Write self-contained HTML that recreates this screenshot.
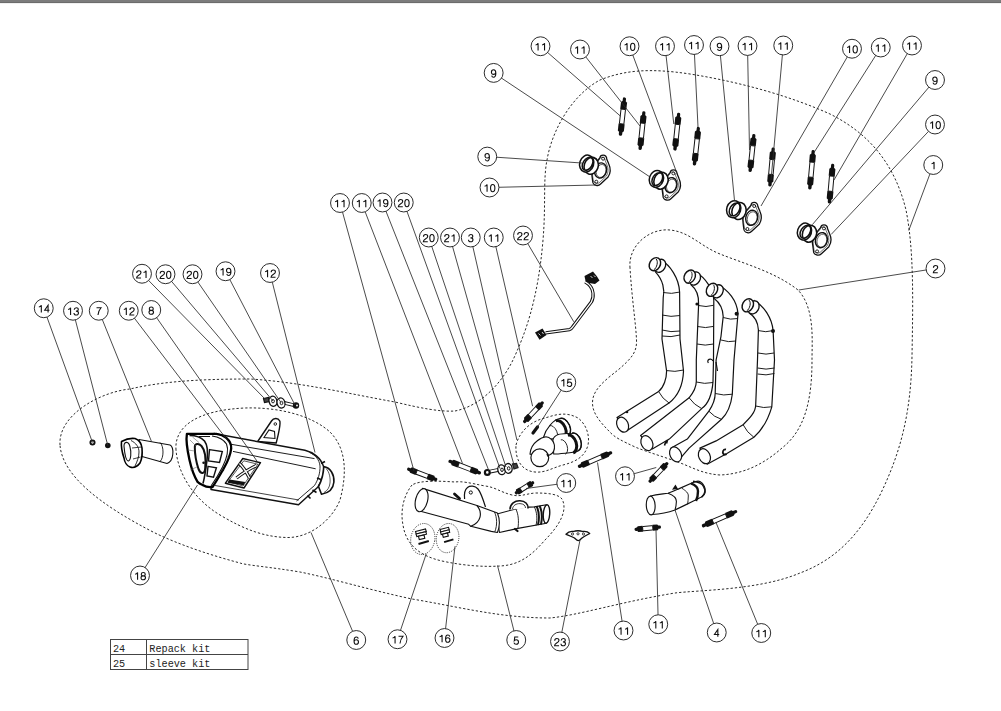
<!DOCTYPE html>
<html><head><meta charset="utf-8"><style>
html,body{margin:0;padding:0;background:#fff;width:1001px;height:711px;overflow:hidden}
svg{position:absolute;left:0;top:0;font-family:"Liberation Sans",sans-serif}
.bar{position:absolute;left:0;top:0;width:1001px;height:2px;background:#7c7c7c;border-bottom:1px solid #6c6c6c;box-shadow:0 1px 0 rgba(0,0,0,0.06)}
</style></head><body>
<svg width="1001" height="711" viewBox="0 0 1001 711">
<path d="M60 445 C58 415 100 392 130 389 C160 382 195 379 250 379 C300 382 350 394 395 402 C420 408 440 412 455 411 C480 406 500 385 512 362 C525 335 538 300 543 240 C546 205 543 180 547 160 C552 130 572 95 600 80 C625 70 650 68 690 74 C740 82 790 96 830 114 C870 134 895 165 906 210 C914 250 913 300 912 356 C911 410 902 450 880 495 C860 535 835 560 800 573 C760 590 700 590 675 593 C620 602 580 615 550 618 C500 618 460 607 412 599 C370 590 330 578 300 572 C270 567 245 565 240 563 C210 555 180 545 155 533 C100 505 62 475 60 445 Z" fill="none" stroke="#2a2a2a" stroke-width="1.0" stroke-dasharray="2.3 2"/>
<path d="M630 268 C628 245 650 228 670 230 C690 232 700 246 720 254 C745 264 775 272 798 290 C815 308 812 340 812 360 C812 400 805 430 782 448 C765 463 745 474 720 475 C705 474 695 469 684 464.4 C668 458 650 453 636 447.4 C622 441 614 437 609.8 431.9 C600 422 591 412 592.7 400 C594 388 608 378 618 370 C632 358 637 352 636.5 340 C636 325 632 300 630 268 Z" fill="none" stroke="#2a2a2a" stroke-width="1.0" stroke-dasharray="2.3 2"/>
<path d="M176 450 C174 425 200 410 245 408 C275 407 310 414 330 432 C345 447 348 470 340 500 C332 520 310 538 287 537.5 C265 537 245 530 220 515 C195 500 178 475 176 450 Z" fill="none" stroke="#2a2a2a" stroke-width="1.0" stroke-dasharray="2.3 2"/>
<path d="M412 485 C404 495 400 510 403 525 C406 545 420 556 442 561 C465 566 485 567 500 566 C520 565 532 555 545 540 C560 525 568 510 562 499 C558 494 548 493 535 493 C525 494 520 497 512 495 C500 492 495 487 485 486 C470 483 462 481 455 482 C440 481 420 480 412 485 Z" fill="none" stroke="#2a2a2a" stroke-width="1.0" stroke-dasharray="2.3 2"/>
<path d="M516 445 C520 430 532 421 545 418 C555 415 565 411 578 418 C586 424 590 435 588 445 C585 457 575 462 563 465 C552 468 545 473 535 472 C522 471 515 460 516 445 Z" fill="none" stroke="#2a2a2a" stroke-width="1.0" stroke-dasharray="2.3 2"/>
<ellipse cx="422.8" cy="539" rx="12" ry="15.6" transform="rotate(10 422.8 539)" fill="none" stroke="#222" stroke-width="0.9" stroke-dasharray="1 1.2"/>
<ellipse cx="447.6" cy="538.1" rx="11.2" ry="14.7" transform="rotate(10 447.6 538.1)" fill="none" stroke="#222" stroke-width="0.9" stroke-dasharray="1 1.2"/>
<g transform="translate(624.6 97.4) rotate(96.39)"><rect x="0" y="-1.6" width="5.41" height="3.2" rx="1.5" fill="#111"/><path d="M3.86 -1.8 L5.02 -3.0500000000000003 L11.98 -3.0500000000000003 L11.98 3.0500000000000003 L5.02 3.0500000000000003 L3.86 1.8 Z" fill="#111"/><rect x="11.98" y="-2.25" width="14.68" height="4.5" fill="#fff" stroke="#111" stroke-width="0.95"/><path d="M26.66 -3.0500000000000003 L33.62 -3.0500000000000003 L34.78 -1.8 L34.78 1.8 L33.62 3.0500000000000003 L26.66 3.0500000000000003 Z" fill="#111"/><rect x="33.23" y="-1.7" width="5.41" height="3.4" rx="1.6" fill="#111"/></g>
<g transform="translate(644 111.2) rotate(95.89)"><rect x="0" y="-1.6" width="5.46" height="3.2" rx="1.5" fill="#111"/><path d="M3.90 -1.8 L5.07 -3.0500000000000003 L12.09 -3.0500000000000003 L12.09 3.0500000000000003 L5.07 3.0500000000000003 L3.90 1.8 Z" fill="#111"/><rect x="12.09" y="-2.25" width="14.82" height="4.5" fill="#fff" stroke="#111" stroke-width="0.95"/><path d="M26.91 -3.0500000000000003 L33.93 -3.0500000000000003 L35.11 -1.8 L35.11 1.8 L33.93 3.0500000000000003 L26.91 3.0500000000000003 Z" fill="#111"/><rect x="33.54" y="-1.7" width="5.46" height="3.4" rx="1.6" fill="#111"/></g>
<g transform="translate(678.8 112.7) rotate(96.02)"><rect x="0" y="-1.6" width="5.34" height="3.2" rx="1.5" fill="#111"/><path d="M3.81 -1.8 L4.95 -3.0500000000000003 L11.81 -3.0500000000000003 L11.81 3.0500000000000003 L4.95 3.0500000000000003 L3.81 1.8 Z" fill="#111"/><rect x="11.81" y="-2.25" width="14.48" height="4.5" fill="#fff" stroke="#111" stroke-width="0.95"/><path d="M26.30 -3.0500000000000003 L33.16 -3.0500000000000003 L34.30 -1.8 L34.30 1.8 L33.16 3.0500000000000003 L26.30 3.0500000000000003 Z" fill="#111"/><rect x="32.78" y="-1.7" width="5.34" height="3.4" rx="1.6" fill="#111"/></g>
<g transform="translate(698.5 126.9) rotate(96.23)"><rect x="0" y="-1.6" width="5.42" height="3.2" rx="1.5" fill="#111"/><path d="M3.87 -1.8 L5.03 -3.0500000000000003 L12.01 -3.0500000000000003 L12.01 3.0500000000000003 L5.03 3.0500000000000003 L3.87 1.8 Z" fill="#111"/><rect x="12.01" y="-2.25" width="14.72" height="4.5" fill="#fff" stroke="#111" stroke-width="0.95"/><path d="M26.72 -3.0500000000000003 L33.69 -3.0500000000000003 L34.86 -1.8 L34.86 1.8 L33.69 3.0500000000000003 L26.72 3.0500000000000003 Z" fill="#111"/><rect x="33.31" y="-1.7" width="5.42" height="3.4" rx="1.6" fill="#111"/></g>
<g transform="translate(754 134) rotate(96.01)"><rect x="0" y="-1.6" width="5.35" height="3.2" rx="1.5" fill="#111"/><path d="M3.82 -1.8 L4.97 -3.0500000000000003 L11.85 -3.0500000000000003 L11.85 3.0500000000000003 L4.97 3.0500000000000003 L3.82 1.8 Z" fill="#111"/><rect x="11.85" y="-2.25" width="14.52" height="4.5" fill="#fff" stroke="#111" stroke-width="0.95"/><path d="M26.36 -3.0500000000000003 L33.24 -3.0500000000000003 L34.39 -1.8 L34.39 1.8 L33.24 3.0500000000000003 L26.36 3.0500000000000003 Z" fill="#111"/><rect x="32.86" y="-1.7" width="5.35" height="3.4" rx="1.6" fill="#111"/></g>
<g transform="translate(773.3 147.5) rotate(95.13)"><rect x="0" y="-1.6" width="5.48" height="3.2" rx="1.5" fill="#111"/><path d="M3.92 -1.8 L5.09 -3.0500000000000003 L12.14 -3.0500000000000003 L12.14 3.0500000000000003 L5.09 3.0500000000000003 L3.92 1.8 Z" fill="#111"/><rect x="12.14" y="-2.25" width="14.88" height="4.5" fill="#fff" stroke="#111" stroke-width="0.95"/><path d="M27.02 -3.0500000000000003 L34.07 -3.0500000000000003 L35.24 -1.8 L35.24 1.8 L34.07 3.0500000000000003 L27.02 3.0500000000000003 Z" fill="#111"/><rect x="33.67" y="-1.7" width="5.48" height="3.4" rx="1.6" fill="#111"/></g>
<g transform="translate(813.3 150) rotate(95.22)"><rect x="0" y="-1.6" width="5.54" height="3.2" rx="1.5" fill="#111"/><path d="M3.96 -1.8 L5.14 -3.0500000000000003 L12.26 -3.0500000000000003 L12.26 3.0500000000000003 L5.14 3.0500000000000003 L3.96 1.8 Z" fill="#111"/><rect x="12.26" y="-2.25" width="15.03" height="4.5" fill="#fff" stroke="#111" stroke-width="0.95"/><path d="M27.30 -3.0500000000000003 L34.42 -3.0500000000000003 L35.61 -1.8 L35.61 1.8 L34.42 3.0500000000000003 L27.30 3.0500000000000003 Z" fill="#111"/><rect x="34.03" y="-1.7" width="5.54" height="3.4" rx="1.6" fill="#111"/></g>
<g transform="translate(832.8 163.8) rotate(95.03)"><rect x="0" y="-1.6" width="5.59" height="3.2" rx="1.5" fill="#111"/><path d="M4.00 -1.8 L5.19 -3.0500000000000003 L12.39 -3.0500000000000003 L12.39 3.0500000000000003 L5.19 3.0500000000000003 L4.00 1.8 Z" fill="#111"/><rect x="12.39" y="-2.25" width="15.18" height="4.5" fill="#fff" stroke="#111" stroke-width="0.95"/><path d="M27.57 -3.0500000000000003 L34.76 -3.0500000000000003 L35.96 -1.8 L35.96 1.8 L34.76 3.0500000000000003 L27.57 3.0500000000000003 Z" fill="#111"/><rect x="34.36" y="-1.7" width="5.59" height="3.4" rx="1.6" fill="#111"/></g>
<g transform="translate(600.6 170.5)"><path d="M2.5 -15.4 C4.8 -15.4 6.2 -13.5 6.1 -11.6 L8.2 -6.5 C10.2 -2 9.8 3 7.5 6.5 L0 13.5 C-1.5 15 -3 15.2 -4.3 14.8 C-6.5 14.5 -8 12.5 -7.9 10.8 L-8.6 5.5 C-9.5 1 -8.5 -4 -5.5 -7 L-0.8 -12.5 C-0.5 -14.5 1 -15.4 2.5 -15.4 Z" fill="#fff" stroke="#111" stroke-width="1.3" stroke-linejoin="round"/><path d="M2.5 -15.4 C4.8 -15.4 6.2 -13.5 6.1 -11.6 L8.2 -6.5 C10.2 -2 9.8 3 7.5 6.5 L0 13.5 C-1.5 15 -3 15.2 -4.3 14.8 C-6.5 14.5 -8 12.5 -7.9 10.8 L-8.6 5.5 C-9.5 1 -8.5 -4 -5.5 -7 L-0.8 -12.5 C-0.5 -14.5 1 -15.4 2.5 -15.4 Z" transform="scale(0.86) translate(-0.8 0)" fill="none" stroke="#111" stroke-width="0.7"/><ellipse cx="0" cy="0" rx="5.9" ry="7.7" transform="rotate(15)" fill="#fff" stroke="#111" stroke-width="1.4"/><ellipse cx="0.6" cy="0.3" rx="4.8" ry="6.6" transform="rotate(15)" fill="none" stroke="#111" stroke-width="0.6"/><circle cx="2.5" cy="-11.8" r="1.5" fill="none" stroke="#111" stroke-width="0.9"/><circle cx="-4.3" cy="11.2" r="1.5" fill="none" stroke="#111" stroke-width="0.9"/></g><path d="M584.54 163.64 A7.0 8.6 18 1 0 597.86 167.96 A7.0 8.6 18 1 0 584.54 163.64 Z" fill="#fff" stroke="#111" stroke-width="1.6"/><path d="M580.04 161.44 A7.0 8.6 18 1 0 593.36 165.76 A7.0 8.6 18 1 0 580.04 161.44 Z M583.70 161.36 A4.6 7.0 32 1 0 591.50 166.24 A4.6 7.0 32 1 0 583.70 161.36 Z" fill="#fff" fill-rule="evenodd" stroke="#111" stroke-width="1.5"/>
<g transform="translate(670.9 185.2)"><path d="M2.5 -15.4 C4.8 -15.4 6.2 -13.5 6.1 -11.6 L8.2 -6.5 C10.2 -2 9.8 3 7.5 6.5 L0 13.5 C-1.5 15 -3 15.2 -4.3 14.8 C-6.5 14.5 -8 12.5 -7.9 10.8 L-8.6 5.5 C-9.5 1 -8.5 -4 -5.5 -7 L-0.8 -12.5 C-0.5 -14.5 1 -15.4 2.5 -15.4 Z" fill="#fff" stroke="#111" stroke-width="1.3" stroke-linejoin="round"/><path d="M2.5 -15.4 C4.8 -15.4 6.2 -13.5 6.1 -11.6 L8.2 -6.5 C10.2 -2 9.8 3 7.5 6.5 L0 13.5 C-1.5 15 -3 15.2 -4.3 14.8 C-6.5 14.5 -8 12.5 -7.9 10.8 L-8.6 5.5 C-9.5 1 -8.5 -4 -5.5 -7 L-0.8 -12.5 C-0.5 -14.5 1 -15.4 2.5 -15.4 Z" transform="scale(0.86) translate(-0.8 0)" fill="none" stroke="#111" stroke-width="0.7"/><ellipse cx="0" cy="0" rx="5.9" ry="7.7" transform="rotate(15)" fill="#fff" stroke="#111" stroke-width="1.4"/><ellipse cx="0.6" cy="0.3" rx="4.8" ry="6.6" transform="rotate(15)" fill="none" stroke="#111" stroke-width="0.6"/><circle cx="2.5" cy="-11.8" r="1.5" fill="none" stroke="#111" stroke-width="0.9"/><circle cx="-4.3" cy="11.2" r="1.5" fill="none" stroke="#111" stroke-width="0.9"/></g><path d="M654.34 178.54 A7.0 8.6 18 1 0 667.66 182.86 A7.0 8.6 18 1 0 654.34 178.54 Z" fill="#fff" stroke="#111" stroke-width="1.6"/><path d="M649.74 176.74 A7.0 8.6 18 1 0 663.06 181.06 A7.0 8.6 18 1 0 649.74 176.74 Z M653.40 176.66 A4.6 7.0 32 1 0 661.20 181.54 A4.6 7.0 32 1 0 653.40 176.66 Z" fill="#fff" fill-rule="evenodd" stroke="#111" stroke-width="1.5"/>
<g transform="translate(751.7 217.8)"><path d="M2.5 -15.4 C4.8 -15.4 6.2 -13.5 6.1 -11.6 L8.2 -6.5 C10.2 -2 9.8 3 7.5 6.5 L0 13.5 C-1.5 15 -3 15.2 -4.3 14.8 C-6.5 14.5 -8 12.5 -7.9 10.8 L-8.6 5.5 C-9.5 1 -8.5 -4 -5.5 -7 L-0.8 -12.5 C-0.5 -14.5 1 -15.4 2.5 -15.4 Z" fill="#fff" stroke="#111" stroke-width="1.3" stroke-linejoin="round"/><path d="M2.5 -15.4 C4.8 -15.4 6.2 -13.5 6.1 -11.6 L8.2 -6.5 C10.2 -2 9.8 3 7.5 6.5 L0 13.5 C-1.5 15 -3 15.2 -4.3 14.8 C-6.5 14.5 -8 12.5 -7.9 10.8 L-8.6 5.5 C-9.5 1 -8.5 -4 -5.5 -7 L-0.8 -12.5 C-0.5 -14.5 1 -15.4 2.5 -15.4 Z" transform="scale(0.86) translate(-0.8 0)" fill="none" stroke="#111" stroke-width="0.7"/><ellipse cx="0" cy="0" rx="5.9" ry="7.7" transform="rotate(15)" fill="#fff" stroke="#111" stroke-width="1.4"/><ellipse cx="0.6" cy="0.3" rx="4.8" ry="6.6" transform="rotate(15)" fill="none" stroke="#111" stroke-width="0.6"/><circle cx="2.5" cy="-11.8" r="1.5" fill="none" stroke="#111" stroke-width="0.9"/><circle cx="-4.3" cy="11.2" r="1.5" fill="none" stroke="#111" stroke-width="0.9"/></g><path d="M732.34 208.84 A7.0 8.6 18 1 0 745.66 213.16 A7.0 8.6 18 1 0 732.34 208.84 Z" fill="#fff" stroke="#111" stroke-width="1.6"/><path d="M727.04 207.04 A7.0 8.6 18 1 0 740.36 211.36 A7.0 8.6 18 1 0 727.04 207.04 Z M730.70 206.96 A4.6 7.0 32 1 0 738.50 211.84 A4.6 7.0 32 1 0 730.70 206.96 Z" fill="#fff" fill-rule="evenodd" stroke="#111" stroke-width="1.5"/>
<g transform="translate(821.4 240.2)"><path d="M2.5 -15.4 C4.8 -15.4 6.2 -13.5 6.1 -11.6 L8.2 -6.5 C10.2 -2 9.8 3 7.5 6.5 L0 13.5 C-1.5 15 -3 15.2 -4.3 14.8 C-6.5 14.5 -8 12.5 -7.9 10.8 L-8.6 5.5 C-9.5 1 -8.5 -4 -5.5 -7 L-0.8 -12.5 C-0.5 -14.5 1 -15.4 2.5 -15.4 Z" fill="#fff" stroke="#111" stroke-width="1.3" stroke-linejoin="round"/><path d="M2.5 -15.4 C4.8 -15.4 6.2 -13.5 6.1 -11.6 L8.2 -6.5 C10.2 -2 9.8 3 7.5 6.5 L0 13.5 C-1.5 15 -3 15.2 -4.3 14.8 C-6.5 14.5 -8 12.5 -7.9 10.8 L-8.6 5.5 C-9.5 1 -8.5 -4 -5.5 -7 L-0.8 -12.5 C-0.5 -14.5 1 -15.4 2.5 -15.4 Z" transform="scale(0.86) translate(-0.8 0)" fill="none" stroke="#111" stroke-width="0.7"/><ellipse cx="0" cy="0" rx="5.9" ry="7.7" transform="rotate(15)" fill="#fff" stroke="#111" stroke-width="1.4"/><ellipse cx="0.6" cy="0.3" rx="4.8" ry="6.6" transform="rotate(15)" fill="none" stroke="#111" stroke-width="0.6"/><circle cx="2.5" cy="-11.8" r="1.5" fill="none" stroke="#111" stroke-width="0.9"/><circle cx="-4.3" cy="11.2" r="1.5" fill="none" stroke="#111" stroke-width="0.9"/></g><path d="M802.84 231.54 A7.0 8.6 18 1 0 816.16 235.86 A7.0 8.6 18 1 0 802.84 231.54 Z" fill="#fff" stroke="#111" stroke-width="1.6"/><path d="M797.84 229.44 A7.0 8.6 18 1 0 811.16 233.76 A7.0 8.6 18 1 0 797.84 229.44 Z M801.50 229.36 A4.6 7.0 32 1 0 809.30 234.24 A4.6 7.0 32 1 0 801.50 229.36 Z" fill="#fff" fill-rule="evenodd" stroke="#111" stroke-width="1.5"/>
<path d="M660.6 259.5 C670 265 679 278 679.6 292 L680 339 L683.5 371 C683 385 678 396 669 403 L628 430 L617 417.5 L658.6 391.5 C664 387 666.6 378 666.6 371 L662 339 L663.2 298 C665 290 663 280 655.6 272.2 Z" fill="#fff" stroke="#111" stroke-width="1.2" stroke-linejoin="round"/><path d="M663 292.5 Q671.56 294.45 680 292" fill="none" stroke="#111" stroke-width="0.95"/><path d="M662 315 Q670.94 317.45 680 315.5" fill="none" stroke="#111" stroke-width="0.95"/><path d="M662 330 Q670.88 332.70 680 331" fill="none" stroke="#111" stroke-width="0.95"/><path d="M662 336 Q671.12 337.70 680 335" fill="none" stroke="#111" stroke-width="0.95"/><path d="M666 370.5 Q674.91 372.45 683.7 370" fill="none" stroke="#111" stroke-width="0.95"/><path d="M658.6 391.5 Q662.33 398.83 669.3 403.2" fill="none" stroke="#111" stroke-width="0.95"/><ellipse cx="660" cy="265.8" rx="5.3" ry="6.9" transform="rotate(30 660 265.8)" fill="#fff" stroke="#111" stroke-width="1.35"/><ellipse cx="654.9" cy="264.2" rx="5.3" ry="6.9" transform="rotate(30 654.9 264.2)" fill="#fff" stroke="#111" stroke-width="1.45"/><path d="M656.1 259.0 C658.5 261.2 657.1 267.7 653.6999999999999 270.0" fill="none" stroke="#111" stroke-width="1"/><ellipse cx="622.6" cy="424.7" rx="5.6" ry="7.8" transform="rotate(-25 622.6 424.7)" fill="#fff" stroke="#111" stroke-width="1.2"/>
<path d="M696 272.2 C706 278 713.5 290 713.8 300.6 L713.5 360 L713 381.6 C712 395 708 404 701.7 408.6 L669.3 439.1 L652.3 449 L640.6 435.5 L689.1 397.8 C694 392 696.3 388 696.3 381.6 L696.3 360 L698.6 304.4 C699 295 695 288 691 284.8 Z" fill="#fff" stroke="#111" stroke-width="1.2" stroke-linejoin="round"/><path d="M698.5 305.5 Q706.03 307.60 713.5 305.3" fill="none" stroke="#111" stroke-width="0.95"/><path d="M697.5 326.5 Q705.51 328.65 713.5 326.4" fill="none" stroke="#111" stroke-width="0.95"/><path d="M697 344 Q705.25 346.20 713.5 344" fill="none" stroke="#111" stroke-width="0.95"/><path d="M696.3 382 Q704.58 384.45 713 382.5" fill="none" stroke="#111" stroke-width="0.95"/><path d="M689.1 397.8 Q693.97 404.87 701.7 408.6" fill="none" stroke="#111" stroke-width="0.95"/><ellipse cx="694.8" cy="278.5" rx="5.3" ry="6.9" transform="rotate(30 694.8 278.5)" fill="#fff" stroke="#111" stroke-width="1.35"/><ellipse cx="689.7" cy="276.6" rx="5.3" ry="6.9" transform="rotate(30 689.7 276.6)" fill="#fff" stroke="#111" stroke-width="1.45"/><path d="M690.9000000000001 271.40000000000003 C693.3000000000001 273.6 691.9000000000001 280.1 688.5 282.40000000000003" fill="none" stroke="#111" stroke-width="1"/><ellipse cx="646.9" cy="443.1" rx="5.6" ry="7.8" transform="rotate(-25 646.9 443.1)" fill="#fff" stroke="#111" stroke-width="1.2"/>
<path d="M718.3 285 C728 290 737 300 738 313.8 L734 360 L732.3 394.2 C731 405 727 414 721.5 419.3 L689.1 448.1 L678.3 460.7 L671.1 448.1 L687.3 439.1 L708.9 411.2 C713 405 715.2 399 715.2 393.3 L716.1 360 L721 336.3 L723.2 316.6 C723 310 720 303 714 298.3 Z" fill="#fff" stroke="#111" stroke-width="1.2" stroke-linejoin="round"/><path d="M723.2 317.5 Q730.45 320.19 738 318.5" fill="none" stroke="#111" stroke-width="0.95"/><path d="M721 340 Q728.35 342.70 736 341" fill="none" stroke="#111" stroke-width="0.95"/><path d="M715.2 393.5 Q723.66 396.05 732.3 394.2" fill="none" stroke="#111" stroke-width="0.95"/><path d="M708.9 411.2 Q714.01 417.10 721.5 419.3" fill="none" stroke="#111" stroke-width="0.95"/><ellipse cx="717.6" cy="291.3" rx="5.3" ry="6.9" transform="rotate(30 717.6 291.3)" fill="#fff" stroke="#111" stroke-width="1.35"/><ellipse cx="712" cy="289.8" rx="5.3" ry="6.9" transform="rotate(30 712 289.8)" fill="#fff" stroke="#111" stroke-width="1.45"/><path d="M713.2 284.6 C715.6 286.8 714.2 293.3 710.8 295.6" fill="none" stroke="#111" stroke-width="1"/><ellipse cx="675.6" cy="454.4" rx="5.6" ry="7.8" transform="rotate(-25 675.6 454.4)" fill="#fff" stroke="#111" stroke-width="1.2"/>
<path d="M754.1 300.4 C764 306 772 318 773.1 330.6 L774.5 360 L771.8 406.8 C768 420 762 430 753.9 437.3 L726.9 453.5 L707.1 464.3 L699.9 448.1 L716.1 440.9 L743.1 424.7 C750 418 755.7 412 755.7 405 L757.5 360 L758.4 330 C758 322 754 316 749.2 313 Z" fill="#fff" stroke="#111" stroke-width="1.2" stroke-linejoin="round"/><path d="M758.4 330.6 Q765.75 332.80 773.1 330.6" fill="none" stroke="#111" stroke-width="0.95"/><path d="M758 353 Q766.00 355.20 774 353" fill="none" stroke="#111" stroke-width="0.95"/><path d="M757.6 368 Q766.05 370.20 774.5 368" fill="none" stroke="#111" stroke-width="0.95"/><path d="M757.6 374 Q766.07 375.95 774.4 373.5" fill="none" stroke="#111" stroke-width="0.95"/><path d="M755.7 406 Q763.64 408.60 771.8 406.8" fill="none" stroke="#111" stroke-width="0.95"/><path d="M743.1 424.7 Q746.83 432.43 753.9 437.3" fill="none" stroke="#111" stroke-width="0.95"/><ellipse cx="753.4" cy="307.4" rx="5.3" ry="6.9" transform="rotate(30 753.4 307.4)" fill="#fff" stroke="#111" stroke-width="1.35"/><ellipse cx="747.8" cy="305.3" rx="5.3" ry="6.9" transform="rotate(30 747.8 305.3)" fill="#fff" stroke="#111" stroke-width="1.45"/><path d="M749.0 300.1 C751.4 302.3 750.0 308.8 746.5999999999999 311.1" fill="none" stroke="#111" stroke-width="1"/><ellipse cx="704.4" cy="456.2" rx="5.6" ry="7.8" transform="rotate(-25 704.4 456.2)" fill="#fff" stroke="#111" stroke-width="1.2"/>
<path d="M257.7 441.5 L271.5 421 C273.5 418 278 417.5 279.8 421 C280.5 423 279.5 430 276.2 443 Z" fill="#fff" stroke="#111" stroke-width="1.4" stroke-linejoin="round"/><path d="M264 437.5 L269 430 L274.5 431.5 L275 438.5 Z" fill="none" stroke="#111" stroke-width="1.1"/><circle cx="275.3" cy="424" r="1.3" fill="none" stroke="#111" stroke-width="0.9"/><path d="M214 433.6 L304.9 450.2 C313 452 321 458 323.5 466.4 C324.5 472 322 481 318 487 L298.5 504.7 L211 489.5 Z" fill="#fff" stroke="#111" stroke-width="1.5" stroke-linejoin="round"/><path d="M323.8 466.6 C330.5 467.5 334.5 475 333.9 482 C333.3 488.5 329.5 493 321.5 494.2 L318.5 486.5 C321.5 481 323.5 473 323.8 466.6 Z" fill="#fff" stroke="#111" stroke-width="1.6" stroke-linejoin="round"/><path d="M326 468.5 C329.5 472 330.5 478 330 483 C329.5 487.5 327.5 490.5 324 492.5" fill="none" stroke="#111" stroke-width="0.7"/><path d="M230.6 444.2 L314.5 458.6" stroke="#111" stroke-width="0.95"/><path d="M233 451.4 L315.7 468.8" stroke="#111" stroke-width="0.95"/><path d="M215 485.5 L298.9 500" stroke="#111" stroke-width="0.8"/><path d="M309.5 452.5 C315.5 455 319.5 460 320 466 C320.3 473 318 480 314.5 485.5 L296.5 501" fill="none" stroke="#111" stroke-width="0.9"/><path d="M321 463.5 L325 461.5 M317 478 L321 479.5 M312.5 490 L316.5 492.5 M307.5 495.5 L310.5 498.5" stroke="#111" stroke-width="1.6"/><path d="M186.9 433.9 L216.4 433.9 C221 434.5 224 436 226.3 437.8 C230 441 231.5 445 231.2 448.5 C230.5 455 228 461 224 468 C220 475 216 482 212.5 487 C209 487.5 205 486.5 202.6 485 C200 484 198.5 483 197.7 482.1 C194 476 191.5 469 189.5 460 C187.5 451 185.5 442 186.9 433.9 Z" fill="#fff" stroke="#000" stroke-width="2.3" stroke-linejoin="round"/><path d="M189.5 435.5 C196 435.5 201 437 204.5 441 C207.5 445 208 452 207 460 C206 468 205 476 203 483.5" fill="none" stroke="#111" stroke-width="1.6"/><path d="M212 436 C219 437 224 440 226.5 444 C229 450 226.5 459 222.5 467 C218.5 475 214.5 481 211 486" fill="none" stroke="#111" stroke-width="1.1"/><path d="M194.8 447 C194.8 443.5 198.5 443 201.5 446 C205 450 206 459 205.2 468 C204.8 474 201 475 198.5 469 C196.5 463 194.8 453 194.8 447 Z" fill="#fff" stroke="#111" stroke-width="2"/><path d="M209.5 449.6 L222.3 451.5 L219.5 462.4 L208.5 461 Z" fill="#fff" stroke="#111" stroke-width="1.4"/><path d="M208 466.4 L216.4 467.8 L213.5 477.2 L207 476 Z" fill="#fff" stroke="#111" stroke-width="1.4"/><circle cx="203.6" cy="462.8" r="1.3" fill="#111"/><path d="M190 440 L196 446 M192.5 437 L199 442.5 M188 450 L194.5 451 M190 470 L197 467" stroke="#666" stroke-width="0.6"/><path d="M199 436.5 L210 436.5" stroke="#111" stroke-width="1"/><circle cx="228.8" cy="457" r="1.2" fill="#111"/><circle cx="223" cy="470" r="1.2" fill="#111"/><path d="M225.4 483.2 L242.8 458.5 L260.5 462.7 L244 488 Z" fill="#fff" stroke="#111" stroke-width="1.4" stroke-linejoin="round"/><path d="M228 481.8 L243.8 460.8 L257.8 464.2 L243 486 Z" fill="none" stroke="#111" stroke-width="0.7"/><path d="M229.5 479.5 L245.3 482 L243.6 485.2 L227.5 482.7 Z" fill="#111"/><path d="M239.5 463.5 C243 467 246.5 472 249.5 478 M256.5 465.5 C251 468 243 473 236.5 478" fill="none" stroke="#111" stroke-width="3.4"/><path d="M239.5 463.5 C243 467 246.5 472 249.5 478 M256.5 465.5 C251 468 243 473 236.5 478" fill="none" stroke="#fff" stroke-width="1.4"/>
<path d="M139 439.5 L170 445 C174 447 174.5 461 167 463.5 L142 456.5 Z" fill="#fff" stroke="#111" stroke-width="1.1" stroke-linejoin="round"/><path d="M160 442.5 C164 446 164 458 160 461.5" fill="none" stroke="#111" stroke-width="0.9"/><path d="M121.5 441.5 C126 439 131 438 135 438.5 C139 440 141.5 444 142 448 C142.5 454 141.5 460 140 463 C137 467 133 468 130 467 C127 466 124.5 462 124 458 C122 452 121 446 121.5 441.5 Z" fill="#fff" stroke="#000" stroke-width="1.6" stroke-linejoin="round"/><path d="M124 446 C124 441 129 441 130 447 C131.5 452 131 460 128.5 461 C126 461 124.5 452 124 446 Z" fill="#fff" stroke="#111" stroke-width="1.1"/><path d="M131 440.5 C136 443 139 447 139 452 C139 457 137 462 135 466" fill="none" stroke="#111" stroke-width="0.9"/><path d="M132 448 L141.5 447 M133 459 L140.5 457" stroke="#111" stroke-width="0.8"/>
<circle cx="92.5" cy="442.5" r="2.1" fill="#fff" stroke="#111" stroke-width="1.9"/>
<circle cx="107.8" cy="445.5" r="2.8" fill="#111"/>
<path d="M263.5 398.5 L268.5 397.5 L269.5 401.5 L264.5 402.5 Z" fill="#444" stroke="#111" stroke-width="1.2"/><path d="M284 402.8 L294 405.2" stroke="#111" stroke-width="3.6"/><path d="M284 402.8 L294 405.2" stroke="#fff" stroke-width="1.8"/><ellipse cx="273" cy="401.2" rx="3.9" ry="5.1" transform="rotate(-15 273 401.2)" fill="#fff" stroke="#111" stroke-width="1.3"/><ellipse cx="273" cy="401.2" rx="1.4" ry="1.7" fill="none" stroke="#111" stroke-width="0.9"/><ellipse cx="281" cy="403" rx="3.9" ry="5.1" transform="rotate(-15 281 403)" fill="#fff" stroke="#111" stroke-width="1.3"/><ellipse cx="281.5" cy="403" rx="1.4" ry="1.7" fill="none" stroke="#111" stroke-width="0.9"/><circle cx="296" cy="405.5" r="3.2" fill="#111"/><circle cx="297" cy="405.5" r="0.9" fill="#fff"/>
<g transform="translate(407.2 468.6) rotate(20.81)"><rect x="0" y="-1.6" width="4.49" height="3.2" rx="1.5" fill="#111"/><path d="M3.21 -1.8 L4.17 -2.95 L9.95 -2.95 L9.95 2.95 L4.17 2.95 L3.21 1.8 Z" fill="#111"/><rect x="9.95" y="-2.15" width="12.20" height="4.3" fill="#fff" stroke="#111" stroke-width="0.95"/><path d="M22.14 -2.95 L27.92 -2.95 L28.88 -1.8 L28.88 1.8 L27.92 2.95 L22.14 2.95 Z" fill="#111"/><rect x="27.60" y="-1.7" width="4.49" height="3.4" rx="1.6" fill="#111"/></g>
<g transform="translate(448.5 460.8) rotate(21.25)"><rect x="0" y="-1.6" width="4.87" height="3.2" rx="1.5" fill="#111"/><path d="M3.48 -1.8 L4.52 -2.95 L10.78 -2.95 L10.78 2.95 L4.52 2.95 L3.48 1.8 Z" fill="#111"/><rect x="10.78" y="-2.15" width="13.21" height="4.3" fill="#fff" stroke="#111" stroke-width="0.95"/><path d="M23.99 -2.95 L30.24 -2.95 L31.29 -1.8 L31.29 1.8 L30.24 2.95 L23.99 2.95 Z" fill="#111"/><rect x="29.90" y="-1.7" width="4.87" height="3.4" rx="1.6" fill="#111"/></g>
<g transform="translate(543.3 401.7) rotate(133.31)"><rect x="0" y="-1.6" width="4.02" height="3.2" rx="1.5" fill="#111"/><path d="M2.87 -1.8 L3.73 -2.95 L8.90 -2.95 L8.90 2.95 L3.73 2.95 L2.87 1.8 Z" fill="#111"/><rect x="8.90" y="-2.15" width="10.91" height="4.3" fill="#fff" stroke="#111" stroke-width="0.95"/><path d="M19.82 -2.95 L24.99 -2.95 L25.85 -1.8 L25.85 1.8 L24.99 2.95 L19.82 2.95 Z" fill="#111"/><rect x="24.70" y="-1.7" width="4.02" height="3.4" rx="1.6" fill="#111"/></g>
<g transform="translate(534 482) rotate(148.82)"><rect x="0" y="-1.6" width="3.11" height="3.2" rx="1.5" fill="#111"/><path d="M2.22 -1.8 L2.89 -2.95 L6.88 -2.95 L6.88 2.95 L2.89 2.95 L2.22 1.8 Z" fill="#111"/><rect x="6.88" y="-2.15" width="8.44" height="4.3" fill="#fff" stroke="#111" stroke-width="0.95"/><path d="M15.32 -2.95 L19.32 -2.95 L19.99 -1.8 L19.99 1.8 L19.32 2.95 L15.32 2.95 Z" fill="#111"/><rect x="19.10" y="-1.7" width="3.11" height="3.4" rx="1.6" fill="#111"/></g>
<g transform="translate(612.1 452.2) rotate(156.54)"><rect x="0" y="-1.6" width="5.20" height="3.2" rx="1.5" fill="#111"/><path d="M3.72 -1.8 L4.83 -2.95 L11.52 -2.95 L11.52 2.95 L4.83 2.95 L3.72 1.8 Z" fill="#111"/><rect x="11.52" y="-2.15" width="14.13" height="4.3" fill="#fff" stroke="#111" stroke-width="0.95"/><path d="M25.65 -2.95 L32.34 -2.95 L33.46 -1.8 L33.46 1.8 L32.34 2.95 L25.65 2.95 Z" fill="#111"/><rect x="31.97" y="-1.7" width="5.20" height="3.4" rx="1.6" fill="#111"/></g>
<g transform="translate(667.9 462.5) rotate(133.67)"><rect x="0" y="-1.6" width="3.83" height="3.2" rx="1.5" fill="#111"/><path d="M2.74 -1.8 L3.56 -2.95 L8.49 -2.95 L8.49 2.95 L3.56 2.95 L2.74 1.8 Z" fill="#111"/><rect x="8.49" y="-2.15" width="10.40" height="4.3" fill="#fff" stroke="#111" stroke-width="0.95"/><path d="M18.89 -2.95 L23.81 -2.95 L24.64 -1.8 L24.64 1.8 L23.81 2.95 L18.89 2.95 Z" fill="#111"/><rect x="23.54" y="-1.7" width="3.83" height="3.4" rx="1.6" fill="#111"/></g>
<g transform="translate(737.1 511) rotate(156.45)"><rect x="0" y="-1.6" width="5.36" height="3.2" rx="1.5" fill="#111"/><path d="M3.83 -1.8 L4.98 -2.95 L11.87 -2.95 L11.87 2.95 L4.98 2.95 L3.83 1.8 Z" fill="#111"/><rect x="11.87" y="-2.15" width="14.55" height="4.3" fill="#fff" stroke="#111" stroke-width="0.95"/><path d="M26.42 -2.95 L33.31 -2.95 L34.46 -1.8 L34.46 1.8 L33.31 2.95 L26.42 2.95 Z" fill="#111"/><rect x="32.93" y="-1.7" width="5.36" height="3.4" rx="1.6" fill="#111"/></g>
<g transform="translate(661 527) rotate(174.61)"><rect x="0" y="-1.6" width="3.73" height="3.2" rx="1.5" fill="#111"/><path d="M2.66 -1.8 L3.46 -2.95 L8.25 -2.95 L8.25 2.95 L3.46 2.95 L2.66 1.8 Z" fill="#111"/><rect x="8.25" y="-2.15" width="10.11" height="4.3" fill="#fff" stroke="#111" stroke-width="0.95"/><path d="M18.37 -2.95 L23.16 -2.95 L23.96 -1.8 L23.96 1.8 L23.16 2.95 L18.37 2.95 Z" fill="#111"/><rect x="22.89" y="-1.7" width="3.73" height="3.4" rx="1.6" fill="#111"/></g>
<path d="M533 433 L537.5 427" stroke="#111" stroke-width="3.2" stroke-linecap="round"/>
<path d="M489 471.8 L500 469.6" stroke="#111" stroke-width="3.8"/><path d="M489 471.8 L500 469.6" stroke="#fff" stroke-width="2"/><circle cx="487.3" cy="472.4" r="2.4" fill="#fff" stroke="#111" stroke-width="2.2"/><ellipse cx="501.6" cy="469.8" rx="3.8" ry="4.9" transform="rotate(-10 501.6 469.8)" fill="#fff" stroke="#111" stroke-width="1.3"/><ellipse cx="502" cy="469.8" rx="1.3" ry="1.7" fill="none" stroke="#111" stroke-width="1"/><ellipse cx="508.3" cy="468.4" rx="3.8" ry="4.9" transform="rotate(-10 508.3 468.4)" fill="#fff" stroke="#111" stroke-width="1.3"/><ellipse cx="508.7" cy="468.4" rx="1.3" ry="1.7" fill="none" stroke="#111" stroke-width="1"/><path d="M512.5 464 L516.5 463.5 L518 467.5 L514 469 Z" fill="#444" stroke="#222" stroke-width="1.3"/>
<path d="M543.6 437 C545.6 429 553.6708349408051 419.5790524361661 559.67 418.58 A6.5 9.8 -23 0 1 567.33 436.62 C563.3291650591949 438.12094756383397 553 439 550 439 Z" fill="#fff" stroke="#111" stroke-width="1.05"/><path d="M549.44 425.78 A4.55 7.840000000000001 -23 0 1 555.56 440.22" fill="none" stroke="#111" stroke-width="0.9"/><path d="M555.75 420.76 A6.175 9.604000000000001 -23 0 1 563.25 438.44" fill="none" stroke="#111" stroke-width="3.0"/><path d="M559.67 418.58 A6.5 9.8 -23 0 1 567.33 436.62" fill="none" stroke="#111" stroke-width="1.4"/><path d="M552.9 440 C554.9 432 566.0517059756062 434.21073529394744 572.05 433.21 A6.2 9.4 -17 0 1 577.55 451.19 C573.5482940243937 452.68926470605254 556.7 454 553.7 454 Z" fill="#fff" stroke="#111" stroke-width="1.05"/><path d="M560.80 439.81 A4.34 7.5200000000000005 -17 0 1 565.20 454.19" fill="none" stroke="#111" stroke-width="0.9"/><path d="M567.81 435.19 A5.89 9.212 -17 0 1 573.19 452.81" fill="none" stroke="#111" stroke-width="3.0"/><path d="M572.05 433.21 A6.2 9.4 -17 0 1 577.55 451.19" fill="none" stroke="#111" stroke-width="1.4"/><path d="M530 454 C530.5 448 533 444 537 441 C540 438.5 543 437 546 436.8 C550 437 553.5 440.5 554.4 445 C555 450 553 453.5 549.5 455 L543 458 Z" fill="#fff" stroke="#111" stroke-width="1.1"/><circle cx="539.8" cy="457.8" r="8.9" fill="#fff" stroke="#111" stroke-width="1.2"/><path d="M547 454 L548.5 456.5" stroke="#111" stroke-width="1.6"/>
<path d="M464.6 499 C464 494 465 489.5 467.5 487.5 C470 485.5 475 485.5 478 489 C480.5 492 483 499 485.5 507" fill="#fff" stroke="#111" stroke-width="1.2"/><circle cx="470.8" cy="492.5" r="1.6" fill="none" stroke="#111" stroke-width="1"/><path d="M454.5 494 L459.5 498.5" stroke="#111" stroke-width="2.8" stroke-linecap="round"/><path d="M497 514 L515.8 508.9 C522 507.5 528 507 534.3 506.9 L546.5 504.8 L546.5 523.2 L517.9 528.4 L499.4 532.5 Z" fill="#fff" stroke="#111" stroke-width="1.1" stroke-linejoin="round"/><path d="M510 509.5 C510 504 515 500.5 520 500.8 C525 501 528.5 504 528 508.5" fill="#fff" stroke="#111" stroke-width="1.6"/><path d="M512.5 509 C513 505.5 516 503.5 520 503.6 C523.5 503.8 525.5 505.5 525.5 508" fill="none" stroke="#111" stroke-width="0.8"/><path d="M515.8 508.9 C518.5 514 519 522 517.9 528.4 M534.3 506.9 C537 512 537.5 519 536 525.5" fill="none" stroke="#111" stroke-width="0.9"/><path d="M536.5 506.2 C539 511 539.5 518 538 525 M539.5 505.8 C542 510.5 542.5 517 541 524.5" fill="none" stroke="#111" stroke-width="2"/><ellipse cx="546.5" cy="514" rx="3.2" ry="9.3" transform="rotate(4 546.5 514)" fill="#fff" stroke="#111" stroke-width="1.4"/><path d="M515 529 L517.5 531" stroke="#111" stroke-width="2.2" stroke-linecap="round"/><path d="M476.9 505.5 L497.4 513 C499.5 518 500 526 497.4 532.5 L491.3 531.4 L470.8 526.3 Z" fill="#fff" stroke="#111" stroke-width="1.1" stroke-linejoin="round"/><path d="M494.5 512 C497 517.5 497.5 525 494.8 531.8" fill="none" stroke="#111" stroke-width="0.9"/><path d="M422.6 488.4 L476.9 505.5 C480 509 481 513 480 517.1 C479 521 475.5 524.5 470.8 526.3 L468.7 524.3 L419.6 511 Z" fill="#fff" stroke="#111" stroke-width="1.15" stroke-linejoin="round"/><ellipse cx="421.6" cy="500.2" rx="6" ry="11.8" transform="rotate(14 421.6 500.2)" fill="#fff" stroke="#111" stroke-width="1.15"/>
<g stroke="#111" fill="#fff" stroke-width="1.1"><path d="M415.5 531.5 L425.5 529 L426.3 531.6 L416.3 534.1 Z"/><path d="M416 534 L425.8 531.6 L426.5 534.2 L416.8 536.6 Z"/><path d="M418.5 536.3 L424 535 L424.8 538.3 L419.3 539.6 Z"/><path d="M418.5 544 L428.8 541" stroke-width="1.9"/><path d="M440 529.5 L448.5 527.3 L449.3 529.8 L440.8 532 Z"/><path d="M440.5 532 L449 529.8 L449.7 532.4 L441.2 534.5 Z"/><path d="M442.5 534.3 L447.5 533 L448.3 536 L443.3 537.3 Z"/><path d="M444.1 542.2 L453.4 539.3" stroke-width="1.9"/></g>
<path d="M650.5 496 C657 494.5 663 494 668 493.2 C673 491.5 676 490 679.2 488.6 L692.4 482.7 C695 481.5 698 480.5 700 481.5 C704 483.5 706 489 705 493 C704.5 495.5 702 497 699.4 498 C692 502 683 506 675 510 C668 512.5 660 514 651.9 514.5 Z" fill="#fff" stroke="#111" stroke-width="1.15" stroke-linejoin="round"/><path d="M668 493.2 C673 495 676.5 498 676.4 501.6 C676.3 505 675.8 507.5 675 510" fill="none" stroke="#111" stroke-width="1.1"/><path d="M682 488.3 C686 491 688.5 493 688.3 496 C688.2 499 688 502 687.6 504.4" fill="none" stroke="#111" stroke-width="0.9"/><path d="M691 483.4 C695 485 698 488 698 491 C698 494 697.5 498 696 500.9" fill="none" stroke="#111" stroke-width="2.4"/><path d="M693 481.3 C698 482 702.5 484 703.5 486.5 C705.5 490 705 494.5 701.5 497.4" fill="none" stroke="#111" stroke-width="1.5"/><path d="M672 489.8 L675.5 484.5 L678 489" fill="#111"/><ellipse cx="650.7" cy="505.5" rx="4.4" ry="9.4" transform="rotate(-3 650.7 505.5)" fill="#fff" stroke="#111" stroke-width="1.15"/>
<path d="M566 534.3 C568 532 571 531 573.5 531.5 C575.5 530.5 580.5 530.5 582.5 531.5 C585 531 588 531.8 589.7 533.5 C587 535 584 536.5 582 538 C580.5 539.5 579.5 540.7 578.3 540.7 C577 540.7 576 539.5 574.5 538 C572 536.5 569 535.5 566 534.3 Z" fill="#fff" stroke="#111" stroke-width="1.3" stroke-linejoin="round"/><circle cx="572.5" cy="534" r="1.1" fill="none" stroke="#111" stroke-width="0.8"/><circle cx="578" cy="533.8" r="1.1" fill="none" stroke="#111" stroke-width="0.8"/><circle cx="583.5" cy="534" r="1.1" fill="none" stroke="#111" stroke-width="0.8"/>
<path d="M585.1 281.9 C589 284 592.5 288 593 293.1 C593.5 297 592.8 299.5 591.3 302.1 L572.7 326.8 C571.5 328.6 570.5 329.4 569.4 329.7 L545.7 332.8" fill="none" stroke="#111" stroke-width="3.3" stroke-linejoin="round"/><path d="M585.1 281.9 C589 284 592.5 288 593 293.1 C593.5 297 592.8 299.5 591.3 302.1 L572.7 326.8 C571.5 328.6 570.5 329.4 569.4 329.7 L545.7 332.8" fill="none" stroke="#fff" stroke-width="1.3" stroke-linejoin="round"/><path d="M584.5 276 L593 271.5 L597 276.5 L599.5 280.5 L595 284 L589 283 L585.5 281 Z" fill="#111"/><path d="M535 332.5 L542.5 328.5 L546.5 335 L539.5 339.8 Z" fill="#111"/><path d="M590.5 276 L592.5 278 M594 275.5 L595.5 277" stroke="#fff" stroke-width="0.8"/><path d="M538.5 333.5 L540.5 335.5 M542 332 L543.5 334" stroke="#fff" stroke-width="0.8"/>
<path d="M708.4 363 C706 360 711 357 713 361 M716 362 L717.5 371" fill="none" stroke="#111" stroke-width="1.2"/><circle cx="736.6" cy="313.8" r="2" fill="#111"/><circle cx="773" cy="331" r="2" fill="#111"/><circle cx="697" cy="304" r="1.6" fill="#111"/><path d="M726 449.5 C723 449 722 452.5 723.5 454 C724.5 455 726 454.5 726.5 454" fill="none" stroke="#111" stroke-width="1.8"/><path d="M664.5 445.5 L666 441 M666.5 443.5 L667.5 440" stroke="#111" stroke-width="1.6"/><circle cx="627" cy="412" r="1.3" fill="#111"/>
<g stroke="#444" stroke-width="1" fill="none"><rect x="110.5" y="639.5" width="137.5" height="30"/><line x1="110.5" y1="654.5" x2="248" y2="654.5"/><line x1="146.5" y1="639.5" x2="146.5" y2="669.5"/></g>
<g font-family="Liberation Mono, monospace" font-size="10.2" fill="#222"><text x="113" y="651.8">24</text><text x="149.3" y="651.8">Repack kit</text><text x="113" y="666.8">25</text><text x="149.3" y="666.8">sleeve kit</text></g>
<line x1="540.5" y1="46.25" x2="620.3" y2="116" stroke="#2a2a2a" stroke-width="0.85"/>
<line x1="580" y1="49.5" x2="640" y2="126" stroke="#2a2a2a" stroke-width="0.85"/>
<line x1="629.5" y1="46.25" x2="676.5" y2="172" stroke="#2a2a2a" stroke-width="0.85"/>
<line x1="665" y1="46.25" x2="673.8" y2="124" stroke="#2a2a2a" stroke-width="0.85"/>
<line x1="694" y1="45" x2="698" y2="127" stroke="#2a2a2a" stroke-width="0.85"/>
<line x1="719.5" y1="46.25" x2="734.5" y2="200.6" stroke="#2a2a2a" stroke-width="0.85"/>
<line x1="747.5" y1="46" x2="749.5" y2="150" stroke="#2a2a2a" stroke-width="0.85"/>
<line x1="783.25" y1="45.5" x2="771" y2="180" stroke="#2a2a2a" stroke-width="0.85"/>
<line x1="852" y1="48.75" x2="761" y2="206" stroke="#2a2a2a" stroke-width="0.85"/>
<line x1="880.75" y1="47.5" x2="814" y2="152.5" stroke="#2a2a2a" stroke-width="0.85"/>
<line x1="912" y1="45.5" x2="834" y2="180" stroke="#2a2a2a" stroke-width="0.85"/>
<line x1="935" y1="80" x2="812.4" y2="224.6" stroke="#2a2a2a" stroke-width="0.85"/>
<line x1="935" y1="124.5" x2="831.2" y2="234.4" stroke="#2a2a2a" stroke-width="0.85"/>
<line x1="933.25" y1="165" x2="908.75" y2="230.5" stroke="#2a2a2a" stroke-width="0.85"/>
<line x1="935.5" y1="268.5" x2="798.75" y2="290" stroke="#2a2a2a" stroke-width="0.85"/>
<line x1="493.65" y1="72.9" x2="650" y2="177" stroke="#2a2a2a" stroke-width="0.85"/>
<line x1="487.25" y1="156.6" x2="581.8" y2="163" stroke="#2a2a2a" stroke-width="0.85"/>
<line x1="489.5" y1="187.5" x2="596" y2="185" stroke="#2a2a2a" stroke-width="0.85"/>
<line x1="340" y1="203" x2="414" y2="471" stroke="#2a2a2a" stroke-width="0.85"/>
<line x1="361.75" y1="203" x2="462.5" y2="463.5" stroke="#2a2a2a" stroke-width="0.85"/>
<line x1="382.5" y1="202.5" x2="489" y2="471" stroke="#2a2a2a" stroke-width="0.85"/>
<line x1="403.75" y1="202.5" x2="500" y2="468.5" stroke="#2a2a2a" stroke-width="0.85"/>
<line x1="428.75" y1="237.5" x2="506" y2="467" stroke="#2a2a2a" stroke-width="0.85"/>
<line x1="450" y1="237.5" x2="514" y2="465" stroke="#2a2a2a" stroke-width="0.85"/>
<line x1="470.75" y1="237.5" x2="516.9" y2="440" stroke="#2a2a2a" stroke-width="0.85"/>
<line x1="493.75" y1="237.5" x2="532.6" y2="406.2" stroke="#2a2a2a" stroke-width="0.85"/>
<line x1="523" y1="235.5" x2="573.75" y2="321.75" stroke="#2a2a2a" stroke-width="0.85"/>
<line x1="270" y1="273" x2="315" y2="452.5" stroke="#2a2a2a" stroke-width="0.85"/>
<line x1="142" y1="273.75" x2="265.5" y2="399.5" stroke="#2a2a2a" stroke-width="0.85"/>
<line x1="165.5" y1="274.25" x2="273" y2="401" stroke="#2a2a2a" stroke-width="0.85"/>
<line x1="192.5" y1="274.25" x2="281" y2="402.5" stroke="#2a2a2a" stroke-width="0.85"/>
<line x1="225.5" y1="271.25" x2="295" y2="405" stroke="#2a2a2a" stroke-width="0.85"/>
<line x1="43.75" y1="308.25" x2="92.5" y2="442.5" stroke="#2a2a2a" stroke-width="0.85"/>
<line x1="73" y1="310.75" x2="107.8" y2="445.5" stroke="#2a2a2a" stroke-width="0.85"/>
<line x1="98.75" y1="310.75" x2="151.5" y2="441.5" stroke="#2a2a2a" stroke-width="0.85"/>
<line x1="128.75" y1="310.75" x2="229" y2="442.4" stroke="#2a2a2a" stroke-width="0.85"/>
<line x1="151.25" y1="310" x2="257.2" y2="461.4" stroke="#2a2a2a" stroke-width="0.85"/>
<line x1="566.25" y1="382.25" x2="537.1" y2="427.6" stroke="#2a2a2a" stroke-width="0.85"/>
<line x1="566.25" y1="483" x2="526" y2="488.5" stroke="#2a2a2a" stroke-width="0.85"/>
<line x1="625" y1="476.25" x2="656.25" y2="467.5" stroke="#2a2a2a" stroke-width="0.85"/>
<line x1="140" y1="575.5" x2="197.5" y2="485" stroke="#2a2a2a" stroke-width="0.85"/>
<line x1="356.25" y1="640" x2="311" y2="532.5" stroke="#2a2a2a" stroke-width="0.85"/>
<line x1="397.5" y1="639.25" x2="426.25" y2="553.75" stroke="#2a2a2a" stroke-width="0.85"/>
<line x1="444.5" y1="638" x2="455" y2="546.25" stroke="#2a2a2a" stroke-width="0.85"/>
<line x1="516.25" y1="640" x2="497.5" y2="565.5" stroke="#2a2a2a" stroke-width="0.85"/>
<line x1="560" y1="641.5" x2="580" y2="540" stroke="#2a2a2a" stroke-width="0.85"/>
<line x1="623.5" y1="630.5" x2="597.5" y2="462.5" stroke="#2a2a2a" stroke-width="0.85"/>
<line x1="658.25" y1="624.25" x2="656" y2="530" stroke="#2a2a2a" stroke-width="0.85"/>
<line x1="716.75" y1="632.5" x2="675" y2="510" stroke="#2a2a2a" stroke-width="0.85"/>
<line x1="761.25" y1="633" x2="716" y2="522.5" stroke="#2a2a2a" stroke-width="0.85"/>
<circle cx="540.5" cy="46.25" r="9.45" fill="#fff" stroke="#222" stroke-width="0.95"/>
<g fill="none" stroke="#111" stroke-width="1.2" vector-effect="non-scaling-stroke" stroke-linecap="butt" stroke-linejoin="miter"><path d="M0.9 -6.4 C2.2 -6.6 3.3 -7.3 3.6 -8.6 L3.6 0" transform="translate(534.76 50.55) scale(0.92 0.855)"/><path d="M0.9 -6.4 C2.2 -6.6 3.3 -7.3 3.6 -8.6 L3.6 0" transform="translate(541.23 50.55) scale(0.92 0.855)"/></g>
<circle cx="580" cy="49.5" r="9.45" fill="#fff" stroke="#222" stroke-width="0.95"/>
<g fill="none" stroke="#111" stroke-width="1.2" vector-effect="non-scaling-stroke" stroke-linecap="butt" stroke-linejoin="miter"><path d="M0.9 -6.4 C2.2 -6.6 3.3 -7.3 3.6 -8.6 L3.6 0" transform="translate(574.26 53.80) scale(0.92 0.855)"/><path d="M0.9 -6.4 C2.2 -6.6 3.3 -7.3 3.6 -8.6 L3.6 0" transform="translate(580.73 53.80) scale(0.92 0.855)"/></g>
<circle cx="629.5" cy="46.25" r="9.45" fill="#fff" stroke="#222" stroke-width="0.95"/>
<g fill="none" stroke="#111" stroke-width="1.2" vector-effect="non-scaling-stroke" stroke-linecap="butt" stroke-linejoin="miter"><path d="M0.9 -6.4 C2.2 -6.6 3.3 -7.3 3.6 -8.6 L3.6 0" transform="translate(623.76 50.55) scale(0.92 0.855)"/><path d="M2.7 -8.6 C1 -8.6 0.35 -6.7 0.35 -4.3 C0.35 -1.9 1 0 2.7 0 C4.4 0 5.05 -1.9 5.05 -4.3 C5.05 -6.7 4.4 -8.6 2.7 -8.6 Z" transform="translate(630.23 50.55) scale(0.92 0.855)"/></g>
<circle cx="665" cy="46.25" r="9.45" fill="#fff" stroke="#222" stroke-width="0.95"/>
<g fill="none" stroke="#111" stroke-width="1.2" vector-effect="non-scaling-stroke" stroke-linecap="butt" stroke-linejoin="miter"><path d="M0.9 -6.4 C2.2 -6.6 3.3 -7.3 3.6 -8.6 L3.6 0" transform="translate(659.26 50.55) scale(0.92 0.855)"/><path d="M0.9 -6.4 C2.2 -6.6 3.3 -7.3 3.6 -8.6 L3.6 0" transform="translate(665.73 50.55) scale(0.92 0.855)"/></g>
<circle cx="694" cy="45" r="9.45" fill="#fff" stroke="#222" stroke-width="0.95"/>
<g fill="none" stroke="#111" stroke-width="1.2" vector-effect="non-scaling-stroke" stroke-linecap="butt" stroke-linejoin="miter"><path d="M0.9 -6.4 C2.2 -6.6 3.3 -7.3 3.6 -8.6 L3.6 0" transform="translate(688.26 49.30) scale(0.92 0.855)"/><path d="M0.9 -6.4 C2.2 -6.6 3.3 -7.3 3.6 -8.6 L3.6 0" transform="translate(694.73 49.30) scale(0.92 0.855)"/></g>
<circle cx="719.5" cy="46.25" r="9.45" fill="#fff" stroke="#222" stroke-width="0.95"/>
<g fill="none" stroke="#111" stroke-width="1.2" vector-effect="non-scaling-stroke" stroke-linecap="butt" stroke-linejoin="miter"><path d="M0.6 -1.9 C0.8 -0.7 1.6 0 2.6 0 C4.4 0 5.1 -1.8 5.1 -4.6 C5.1 -7.3 4.3 -8.6 2.7 -8.6 C1.3 -8.6 0.3 -7.6 0.3 -5.9 C0.3 -4.3 1.3 -3.3 2.6 -3.3 C3.8 -3.3 4.8 -4 5.1 -5.3" transform="translate(716.99 50.55) scale(0.92 0.855)"/></g>
<circle cx="747.5" cy="46" r="9.45" fill="#fff" stroke="#222" stroke-width="0.95"/>
<g fill="none" stroke="#111" stroke-width="1.2" vector-effect="non-scaling-stroke" stroke-linecap="butt" stroke-linejoin="miter"><path d="M0.9 -6.4 C2.2 -6.6 3.3 -7.3 3.6 -8.6 L3.6 0" transform="translate(741.76 50.30) scale(0.92 0.855)"/><path d="M0.9 -6.4 C2.2 -6.6 3.3 -7.3 3.6 -8.6 L3.6 0" transform="translate(748.23 50.30) scale(0.92 0.855)"/></g>
<circle cx="783.25" cy="45.5" r="9.45" fill="#fff" stroke="#222" stroke-width="0.95"/>
<g fill="none" stroke="#111" stroke-width="1.2" vector-effect="non-scaling-stroke" stroke-linecap="butt" stroke-linejoin="miter"><path d="M0.9 -6.4 C2.2 -6.6 3.3 -7.3 3.6 -8.6 L3.6 0" transform="translate(777.51 49.80) scale(0.92 0.855)"/><path d="M0.9 -6.4 C2.2 -6.6 3.3 -7.3 3.6 -8.6 L3.6 0" transform="translate(783.98 49.80) scale(0.92 0.855)"/></g>
<circle cx="852" cy="48.75" r="9.45" fill="#fff" stroke="#222" stroke-width="0.95"/>
<g fill="none" stroke="#111" stroke-width="1.2" vector-effect="non-scaling-stroke" stroke-linecap="butt" stroke-linejoin="miter"><path d="M0.9 -6.4 C2.2 -6.6 3.3 -7.3 3.6 -8.6 L3.6 0" transform="translate(846.26 53.05) scale(0.92 0.855)"/><path d="M2.7 -8.6 C1 -8.6 0.35 -6.7 0.35 -4.3 C0.35 -1.9 1 0 2.7 0 C4.4 0 5.05 -1.9 5.05 -4.3 C5.05 -6.7 4.4 -8.6 2.7 -8.6 Z" transform="translate(852.73 53.05) scale(0.92 0.855)"/></g>
<circle cx="880.75" cy="47.5" r="9.45" fill="#fff" stroke="#222" stroke-width="0.95"/>
<g fill="none" stroke="#111" stroke-width="1.2" vector-effect="non-scaling-stroke" stroke-linecap="butt" stroke-linejoin="miter"><path d="M0.9 -6.4 C2.2 -6.6 3.3 -7.3 3.6 -8.6 L3.6 0" transform="translate(875.01 51.80) scale(0.92 0.855)"/><path d="M0.9 -6.4 C2.2 -6.6 3.3 -7.3 3.6 -8.6 L3.6 0" transform="translate(881.48 51.80) scale(0.92 0.855)"/></g>
<circle cx="912" cy="45.5" r="9.45" fill="#fff" stroke="#222" stroke-width="0.95"/>
<g fill="none" stroke="#111" stroke-width="1.2" vector-effect="non-scaling-stroke" stroke-linecap="butt" stroke-linejoin="miter"><path d="M0.9 -6.4 C2.2 -6.6 3.3 -7.3 3.6 -8.6 L3.6 0" transform="translate(906.26 49.80) scale(0.92 0.855)"/><path d="M0.9 -6.4 C2.2 -6.6 3.3 -7.3 3.6 -8.6 L3.6 0" transform="translate(912.73 49.80) scale(0.92 0.855)"/></g>
<circle cx="935" cy="80" r="9.45" fill="#fff" stroke="#222" stroke-width="0.95"/>
<g fill="none" stroke="#111" stroke-width="1.2" vector-effect="non-scaling-stroke" stroke-linecap="butt" stroke-linejoin="miter"><path d="M0.6 -1.9 C0.8 -0.7 1.6 0 2.6 0 C4.4 0 5.1 -1.8 5.1 -4.6 C5.1 -7.3 4.3 -8.6 2.7 -8.6 C1.3 -8.6 0.3 -7.6 0.3 -5.9 C0.3 -4.3 1.3 -3.3 2.6 -3.3 C3.8 -3.3 4.8 -4 5.1 -5.3" transform="translate(932.49 84.30) scale(0.92 0.855)"/></g>
<circle cx="935" cy="124.5" r="9.45" fill="#fff" stroke="#222" stroke-width="0.95"/>
<g fill="none" stroke="#111" stroke-width="1.2" vector-effect="non-scaling-stroke" stroke-linecap="butt" stroke-linejoin="miter"><path d="M0.9 -6.4 C2.2 -6.6 3.3 -7.3 3.6 -8.6 L3.6 0" transform="translate(929.26 128.80) scale(0.92 0.855)"/><path d="M2.7 -8.6 C1 -8.6 0.35 -6.7 0.35 -4.3 C0.35 -1.9 1 0 2.7 0 C4.4 0 5.05 -1.9 5.05 -4.3 C5.05 -6.7 4.4 -8.6 2.7 -8.6 Z" transform="translate(935.73 128.80) scale(0.92 0.855)"/></g>
<circle cx="933.25" cy="165" r="9.45" fill="#fff" stroke="#222" stroke-width="0.95"/>
<g fill="none" stroke="#111" stroke-width="1.2" vector-effect="non-scaling-stroke" stroke-linecap="butt" stroke-linejoin="miter"><path d="M0.9 -6.4 C2.2 -6.6 3.3 -7.3 3.6 -8.6 L3.6 0" transform="translate(930.74 169.30) scale(0.92 0.855)"/></g>
<circle cx="935.5" cy="268.5" r="9.45" fill="#fff" stroke="#222" stroke-width="0.95"/>
<g fill="none" stroke="#111" stroke-width="1.2" vector-effect="non-scaling-stroke" stroke-linecap="butt" stroke-linejoin="miter"><path d="M0.5 -5.9 C0.5 -7.7 1.4 -8.6 2.8 -8.6 C4.2 -8.6 5.1 -7.7 5.1 -6.3 C5.1 -4.9 4.1 -4.2 2.6 -3.3 C1.1 -2.4 0.4 -1.5 0.35 0 L5.2 0" transform="translate(932.99 272.80) scale(0.92 0.855)"/></g>
<circle cx="493.65" cy="72.9" r="9.45" fill="#fff" stroke="#222" stroke-width="0.95"/>
<g fill="none" stroke="#111" stroke-width="1.2" vector-effect="non-scaling-stroke" stroke-linecap="butt" stroke-linejoin="miter"><path d="M0.6 -1.9 C0.8 -0.7 1.6 0 2.6 0 C4.4 0 5.1 -1.8 5.1 -4.6 C5.1 -7.3 4.3 -8.6 2.7 -8.6 C1.3 -8.6 0.3 -7.6 0.3 -5.9 C0.3 -4.3 1.3 -3.3 2.6 -3.3 C3.8 -3.3 4.8 -4 5.1 -5.3" transform="translate(491.14 77.20) scale(0.92 0.855)"/></g>
<circle cx="487.25" cy="156.6" r="9.45" fill="#fff" stroke="#222" stroke-width="0.95"/>
<g fill="none" stroke="#111" stroke-width="1.2" vector-effect="non-scaling-stroke" stroke-linecap="butt" stroke-linejoin="miter"><path d="M0.6 -1.9 C0.8 -0.7 1.6 0 2.6 0 C4.4 0 5.1 -1.8 5.1 -4.6 C5.1 -7.3 4.3 -8.6 2.7 -8.6 C1.3 -8.6 0.3 -7.6 0.3 -5.9 C0.3 -4.3 1.3 -3.3 2.6 -3.3 C3.8 -3.3 4.8 -4 5.1 -5.3" transform="translate(484.74 160.90) scale(0.92 0.855)"/></g>
<circle cx="489.5" cy="187.5" r="9.45" fill="#fff" stroke="#222" stroke-width="0.95"/>
<g fill="none" stroke="#111" stroke-width="1.2" vector-effect="non-scaling-stroke" stroke-linecap="butt" stroke-linejoin="miter"><path d="M0.9 -6.4 C2.2 -6.6 3.3 -7.3 3.6 -8.6 L3.6 0" transform="translate(483.76 191.80) scale(0.92 0.855)"/><path d="M2.7 -8.6 C1 -8.6 0.35 -6.7 0.35 -4.3 C0.35 -1.9 1 0 2.7 0 C4.4 0 5.05 -1.9 5.05 -4.3 C5.05 -6.7 4.4 -8.6 2.7 -8.6 Z" transform="translate(490.23 191.80) scale(0.92 0.855)"/></g>
<circle cx="340" cy="203" r="9.45" fill="#fff" stroke="#222" stroke-width="0.95"/>
<g fill="none" stroke="#111" stroke-width="1.2" vector-effect="non-scaling-stroke" stroke-linecap="butt" stroke-linejoin="miter"><path d="M0.9 -6.4 C2.2 -6.6 3.3 -7.3 3.6 -8.6 L3.6 0" transform="translate(334.26 207.30) scale(0.92 0.855)"/><path d="M0.9 -6.4 C2.2 -6.6 3.3 -7.3 3.6 -8.6 L3.6 0" transform="translate(340.73 207.30) scale(0.92 0.855)"/></g>
<circle cx="361.75" cy="203" r="9.45" fill="#fff" stroke="#222" stroke-width="0.95"/>
<g fill="none" stroke="#111" stroke-width="1.2" vector-effect="non-scaling-stroke" stroke-linecap="butt" stroke-linejoin="miter"><path d="M0.9 -6.4 C2.2 -6.6 3.3 -7.3 3.6 -8.6 L3.6 0" transform="translate(356.01 207.30) scale(0.92 0.855)"/><path d="M0.9 -6.4 C2.2 -6.6 3.3 -7.3 3.6 -8.6 L3.6 0" transform="translate(362.48 207.30) scale(0.92 0.855)"/></g>
<circle cx="382.5" cy="202.5" r="9.45" fill="#fff" stroke="#222" stroke-width="0.95"/>
<g fill="none" stroke="#111" stroke-width="1.2" vector-effect="non-scaling-stroke" stroke-linecap="butt" stroke-linejoin="miter"><path d="M0.9 -6.4 C2.2 -6.6 3.3 -7.3 3.6 -8.6 L3.6 0" transform="translate(376.76 206.80) scale(0.92 0.855)"/><path d="M0.6 -1.9 C0.8 -0.7 1.6 0 2.6 0 C4.4 0 5.1 -1.8 5.1 -4.6 C5.1 -7.3 4.3 -8.6 2.7 -8.6 C1.3 -8.6 0.3 -7.6 0.3 -5.9 C0.3 -4.3 1.3 -3.3 2.6 -3.3 C3.8 -3.3 4.8 -4 5.1 -5.3" transform="translate(383.23 206.80) scale(0.92 0.855)"/></g>
<circle cx="403.75" cy="202.5" r="9.45" fill="#fff" stroke="#222" stroke-width="0.95"/>
<g fill="none" stroke="#111" stroke-width="1.2" vector-effect="non-scaling-stroke" stroke-linecap="butt" stroke-linejoin="miter"><path d="M0.5 -5.9 C0.5 -7.7 1.4 -8.6 2.8 -8.6 C4.2 -8.6 5.1 -7.7 5.1 -6.3 C5.1 -4.9 4.1 -4.2 2.6 -3.3 C1.1 -2.4 0.4 -1.5 0.35 0 L5.2 0" transform="translate(398.01 206.80) scale(0.92 0.855)"/><path d="M2.7 -8.6 C1 -8.6 0.35 -6.7 0.35 -4.3 C0.35 -1.9 1 0 2.7 0 C4.4 0 5.05 -1.9 5.05 -4.3 C5.05 -6.7 4.4 -8.6 2.7 -8.6 Z" transform="translate(404.48 206.80) scale(0.92 0.855)"/></g>
<circle cx="428.75" cy="237.5" r="9.45" fill="#fff" stroke="#222" stroke-width="0.95"/>
<g fill="none" stroke="#111" stroke-width="1.2" vector-effect="non-scaling-stroke" stroke-linecap="butt" stroke-linejoin="miter"><path d="M0.5 -5.9 C0.5 -7.7 1.4 -8.6 2.8 -8.6 C4.2 -8.6 5.1 -7.7 5.1 -6.3 C5.1 -4.9 4.1 -4.2 2.6 -3.3 C1.1 -2.4 0.4 -1.5 0.35 0 L5.2 0" transform="translate(423.01 241.80) scale(0.92 0.855)"/><path d="M2.7 -8.6 C1 -8.6 0.35 -6.7 0.35 -4.3 C0.35 -1.9 1 0 2.7 0 C4.4 0 5.05 -1.9 5.05 -4.3 C5.05 -6.7 4.4 -8.6 2.7 -8.6 Z" transform="translate(429.48 241.80) scale(0.92 0.855)"/></g>
<circle cx="450" cy="237.5" r="9.45" fill="#fff" stroke="#222" stroke-width="0.95"/>
<g fill="none" stroke="#111" stroke-width="1.2" vector-effect="non-scaling-stroke" stroke-linecap="butt" stroke-linejoin="miter"><path d="M0.5 -5.9 C0.5 -7.7 1.4 -8.6 2.8 -8.6 C4.2 -8.6 5.1 -7.7 5.1 -6.3 C5.1 -4.9 4.1 -4.2 2.6 -3.3 C1.1 -2.4 0.4 -1.5 0.35 0 L5.2 0" transform="translate(444.26 241.80) scale(0.92 0.855)"/><path d="M0.9 -6.4 C2.2 -6.6 3.3 -7.3 3.6 -8.6 L3.6 0" transform="translate(450.73 241.80) scale(0.92 0.855)"/></g>
<circle cx="470.75" cy="237.5" r="9.45" fill="#fff" stroke="#222" stroke-width="0.95"/>
<g fill="none" stroke="#111" stroke-width="1.2" vector-effect="non-scaling-stroke" stroke-linecap="butt" stroke-linejoin="miter"><path d="M0.5 -6.2 C0.6 -7.9 1.5 -8.6 2.8 -8.6 C4.1 -8.6 4.95 -7.8 4.95 -6.6 C4.95 -5.3 4 -4.6 2.4 -4.6 C4.1 -4.6 5.15 -3.8 5.15 -2.3 C5.15 -0.8 4.1 0 2.7 0 C1.2 0 0.3 -0.8 0.25 -2.4" transform="translate(468.24 241.80) scale(0.92 0.855)"/></g>
<circle cx="493.75" cy="237.5" r="9.45" fill="#fff" stroke="#222" stroke-width="0.95"/>
<g fill="none" stroke="#111" stroke-width="1.2" vector-effect="non-scaling-stroke" stroke-linecap="butt" stroke-linejoin="miter"><path d="M0.9 -6.4 C2.2 -6.6 3.3 -7.3 3.6 -8.6 L3.6 0" transform="translate(488.01 241.80) scale(0.92 0.855)"/><path d="M0.9 -6.4 C2.2 -6.6 3.3 -7.3 3.6 -8.6 L3.6 0" transform="translate(494.48 241.80) scale(0.92 0.855)"/></g>
<circle cx="523" cy="235.5" r="9.45" fill="#fff" stroke="#222" stroke-width="0.95"/>
<g fill="none" stroke="#111" stroke-width="1.2" vector-effect="non-scaling-stroke" stroke-linecap="butt" stroke-linejoin="miter"><path d="M0.5 -5.9 C0.5 -7.7 1.4 -8.6 2.8 -8.6 C4.2 -8.6 5.1 -7.7 5.1 -6.3 C5.1 -4.9 4.1 -4.2 2.6 -3.3 C1.1 -2.4 0.4 -1.5 0.35 0 L5.2 0" transform="translate(517.26 239.80) scale(0.92 0.855)"/><path d="M0.5 -5.9 C0.5 -7.7 1.4 -8.6 2.8 -8.6 C4.2 -8.6 5.1 -7.7 5.1 -6.3 C5.1 -4.9 4.1 -4.2 2.6 -3.3 C1.1 -2.4 0.4 -1.5 0.35 0 L5.2 0" transform="translate(523.73 239.80) scale(0.92 0.855)"/></g>
<circle cx="270" cy="273" r="9.45" fill="#fff" stroke="#222" stroke-width="0.95"/>
<g fill="none" stroke="#111" stroke-width="1.2" vector-effect="non-scaling-stroke" stroke-linecap="butt" stroke-linejoin="miter"><path d="M0.9 -6.4 C2.2 -6.6 3.3 -7.3 3.6 -8.6 L3.6 0" transform="translate(264.26 277.30) scale(0.92 0.855)"/><path d="M0.5 -5.9 C0.5 -7.7 1.4 -8.6 2.8 -8.6 C4.2 -8.6 5.1 -7.7 5.1 -6.3 C5.1 -4.9 4.1 -4.2 2.6 -3.3 C1.1 -2.4 0.4 -1.5 0.35 0 L5.2 0" transform="translate(270.73 277.30) scale(0.92 0.855)"/></g>
<circle cx="142" cy="273.75" r="9.45" fill="#fff" stroke="#222" stroke-width="0.95"/>
<g fill="none" stroke="#111" stroke-width="1.2" vector-effect="non-scaling-stroke" stroke-linecap="butt" stroke-linejoin="miter"><path d="M0.5 -5.9 C0.5 -7.7 1.4 -8.6 2.8 -8.6 C4.2 -8.6 5.1 -7.7 5.1 -6.3 C5.1 -4.9 4.1 -4.2 2.6 -3.3 C1.1 -2.4 0.4 -1.5 0.35 0 L5.2 0" transform="translate(136.26 278.05) scale(0.92 0.855)"/><path d="M0.9 -6.4 C2.2 -6.6 3.3 -7.3 3.6 -8.6 L3.6 0" transform="translate(142.73 278.05) scale(0.92 0.855)"/></g>
<circle cx="165.5" cy="274.25" r="9.45" fill="#fff" stroke="#222" stroke-width="0.95"/>
<g fill="none" stroke="#111" stroke-width="1.2" vector-effect="non-scaling-stroke" stroke-linecap="butt" stroke-linejoin="miter"><path d="M0.5 -5.9 C0.5 -7.7 1.4 -8.6 2.8 -8.6 C4.2 -8.6 5.1 -7.7 5.1 -6.3 C5.1 -4.9 4.1 -4.2 2.6 -3.3 C1.1 -2.4 0.4 -1.5 0.35 0 L5.2 0" transform="translate(159.76 278.55) scale(0.92 0.855)"/><path d="M2.7 -8.6 C1 -8.6 0.35 -6.7 0.35 -4.3 C0.35 -1.9 1 0 2.7 0 C4.4 0 5.05 -1.9 5.05 -4.3 C5.05 -6.7 4.4 -8.6 2.7 -8.6 Z" transform="translate(166.23 278.55) scale(0.92 0.855)"/></g>
<circle cx="192.5" cy="274.25" r="9.45" fill="#fff" stroke="#222" stroke-width="0.95"/>
<g fill="none" stroke="#111" stroke-width="1.2" vector-effect="non-scaling-stroke" stroke-linecap="butt" stroke-linejoin="miter"><path d="M0.5 -5.9 C0.5 -7.7 1.4 -8.6 2.8 -8.6 C4.2 -8.6 5.1 -7.7 5.1 -6.3 C5.1 -4.9 4.1 -4.2 2.6 -3.3 C1.1 -2.4 0.4 -1.5 0.35 0 L5.2 0" transform="translate(186.76 278.55) scale(0.92 0.855)"/><path d="M2.7 -8.6 C1 -8.6 0.35 -6.7 0.35 -4.3 C0.35 -1.9 1 0 2.7 0 C4.4 0 5.05 -1.9 5.05 -4.3 C5.05 -6.7 4.4 -8.6 2.7 -8.6 Z" transform="translate(193.23 278.55) scale(0.92 0.855)"/></g>
<circle cx="225.5" cy="271.25" r="9.45" fill="#fff" stroke="#222" stroke-width="0.95"/>
<g fill="none" stroke="#111" stroke-width="1.2" vector-effect="non-scaling-stroke" stroke-linecap="butt" stroke-linejoin="miter"><path d="M0.9 -6.4 C2.2 -6.6 3.3 -7.3 3.6 -8.6 L3.6 0" transform="translate(219.76 275.55) scale(0.92 0.855)"/><path d="M0.6 -1.9 C0.8 -0.7 1.6 0 2.6 0 C4.4 0 5.1 -1.8 5.1 -4.6 C5.1 -7.3 4.3 -8.6 2.7 -8.6 C1.3 -8.6 0.3 -7.6 0.3 -5.9 C0.3 -4.3 1.3 -3.3 2.6 -3.3 C3.8 -3.3 4.8 -4 5.1 -5.3" transform="translate(226.23 275.55) scale(0.92 0.855)"/></g>
<circle cx="43.75" cy="308.25" r="9.45" fill="#fff" stroke="#222" stroke-width="0.95"/>
<g fill="none" stroke="#111" stroke-width="1.2" vector-effect="non-scaling-stroke" stroke-linecap="butt" stroke-linejoin="miter"><path d="M0.9 -6.4 C2.2 -6.6 3.3 -7.3 3.6 -8.6 L3.6 0" transform="translate(38.01 312.55) scale(0.92 0.855)"/><path d="M3.9 0 L3.9 -8.5 L0.2 -2.6 L5.4 -2.6" transform="translate(44.48 312.55) scale(0.92 0.855)"/></g>
<circle cx="73" cy="310.75" r="9.45" fill="#fff" stroke="#222" stroke-width="0.95"/>
<g fill="none" stroke="#111" stroke-width="1.2" vector-effect="non-scaling-stroke" stroke-linecap="butt" stroke-linejoin="miter"><path d="M0.9 -6.4 C2.2 -6.6 3.3 -7.3 3.6 -8.6 L3.6 0" transform="translate(67.26 315.05) scale(0.92 0.855)"/><path d="M0.5 -6.2 C0.6 -7.9 1.5 -8.6 2.8 -8.6 C4.1 -8.6 4.95 -7.8 4.95 -6.6 C4.95 -5.3 4 -4.6 2.4 -4.6 C4.1 -4.6 5.15 -3.8 5.15 -2.3 C5.15 -0.8 4.1 0 2.7 0 C1.2 0 0.3 -0.8 0.25 -2.4" transform="translate(73.73 315.05) scale(0.92 0.855)"/></g>
<circle cx="98.75" cy="310.75" r="9.45" fill="#fff" stroke="#222" stroke-width="0.95"/>
<g fill="none" stroke="#111" stroke-width="1.2" vector-effect="non-scaling-stroke" stroke-linecap="butt" stroke-linejoin="miter"><path d="M0.3 -8.5 L5.2 -8.5 C3.6 -6.6 2.3 -3.8 1.9 0" transform="translate(96.24 315.05) scale(0.92 0.855)"/></g>
<circle cx="128.75" cy="310.75" r="9.45" fill="#fff" stroke="#222" stroke-width="0.95"/>
<g fill="none" stroke="#111" stroke-width="1.2" vector-effect="non-scaling-stroke" stroke-linecap="butt" stroke-linejoin="miter"><path d="M0.9 -6.4 C2.2 -6.6 3.3 -7.3 3.6 -8.6 L3.6 0" transform="translate(123.01 315.05) scale(0.92 0.855)"/><path d="M0.5 -5.9 C0.5 -7.7 1.4 -8.6 2.8 -8.6 C4.2 -8.6 5.1 -7.7 5.1 -6.3 C5.1 -4.9 4.1 -4.2 2.6 -3.3 C1.1 -2.4 0.4 -1.5 0.35 0 L5.2 0" transform="translate(129.48 315.05) scale(0.92 0.855)"/></g>
<circle cx="151.25" cy="310" r="9.45" fill="#fff" stroke="#222" stroke-width="0.95"/>
<g fill="none" stroke="#111" stroke-width="1.2" vector-effect="non-scaling-stroke" stroke-linecap="butt" stroke-linejoin="miter"><path d="M2.75 -4.6 C1.4 -4.6 0.6 -5.4 0.6 -6.6 C0.6 -7.8 1.4 -8.6 2.75 -8.6 C4.1 -8.6 4.9 -7.8 4.9 -6.6 C4.9 -5.4 4.1 -4.6 2.75 -4.6 C1.2 -4.6 0.3 -3.7 0.3 -2.3 C0.3 -0.8 1.3 0 2.75 0 C4.2 0 5.2 -0.8 5.2 -2.3 C5.2 -3.7 4.3 -4.6 2.75 -4.6 Z" transform="translate(148.74 314.30) scale(0.92 0.855)"/></g>
<circle cx="566.25" cy="382.25" r="9.45" fill="#fff" stroke="#222" stroke-width="0.95"/>
<g fill="none" stroke="#111" stroke-width="1.2" vector-effect="non-scaling-stroke" stroke-linecap="butt" stroke-linejoin="miter"><path d="M0.9 -6.4 C2.2 -6.6 3.3 -7.3 3.6 -8.6 L3.6 0" transform="translate(560.51 386.55) scale(0.92 0.855)"/><path d="M4.9 -8.5 L1.1 -8.5 L0.65 -4.3 C1.2 -5 1.9 -5.3 2.8 -5.3 C4.2 -5.3 5.15 -4.3 5.15 -2.7 C5.15 -1 4.1 0 2.7 0 C1.4 0 0.45 -0.7 0.25 -2" transform="translate(566.98 386.55) scale(0.92 0.855)"/></g>
<circle cx="566.25" cy="483" r="9.45" fill="#fff" stroke="#222" stroke-width="0.95"/>
<g fill="none" stroke="#111" stroke-width="1.2" vector-effect="non-scaling-stroke" stroke-linecap="butt" stroke-linejoin="miter"><path d="M0.9 -6.4 C2.2 -6.6 3.3 -7.3 3.6 -8.6 L3.6 0" transform="translate(560.51 487.30) scale(0.92 0.855)"/><path d="M0.9 -6.4 C2.2 -6.6 3.3 -7.3 3.6 -8.6 L3.6 0" transform="translate(566.98 487.30) scale(0.92 0.855)"/></g>
<circle cx="625" cy="476.25" r="9.45" fill="#fff" stroke="#222" stroke-width="0.95"/>
<g fill="none" stroke="#111" stroke-width="1.2" vector-effect="non-scaling-stroke" stroke-linecap="butt" stroke-linejoin="miter"><path d="M0.9 -6.4 C2.2 -6.6 3.3 -7.3 3.6 -8.6 L3.6 0" transform="translate(619.26 480.55) scale(0.92 0.855)"/><path d="M0.9 -6.4 C2.2 -6.6 3.3 -7.3 3.6 -8.6 L3.6 0" transform="translate(625.73 480.55) scale(0.92 0.855)"/></g>
<circle cx="140" cy="575.5" r="9.45" fill="#fff" stroke="#222" stroke-width="0.95"/>
<g fill="none" stroke="#111" stroke-width="1.2" vector-effect="non-scaling-stroke" stroke-linecap="butt" stroke-linejoin="miter"><path d="M0.9 -6.4 C2.2 -6.6 3.3 -7.3 3.6 -8.6 L3.6 0" transform="translate(134.26 579.80) scale(0.92 0.855)"/><path d="M2.75 -4.6 C1.4 -4.6 0.6 -5.4 0.6 -6.6 C0.6 -7.8 1.4 -8.6 2.75 -8.6 C4.1 -8.6 4.9 -7.8 4.9 -6.6 C4.9 -5.4 4.1 -4.6 2.75 -4.6 C1.2 -4.6 0.3 -3.7 0.3 -2.3 C0.3 -0.8 1.3 0 2.75 0 C4.2 0 5.2 -0.8 5.2 -2.3 C5.2 -3.7 4.3 -4.6 2.75 -4.6 Z" transform="translate(140.73 579.80) scale(0.92 0.855)"/></g>
<circle cx="356.25" cy="640" r="9.45" fill="#fff" stroke="#222" stroke-width="0.95"/>
<g fill="none" stroke="#111" stroke-width="1.2" vector-effect="non-scaling-stroke" stroke-linecap="butt" stroke-linejoin="miter"><path d="M4.9 -6.6 C4.7 -7.9 3.9 -8.6 2.9 -8.6 C1.1 -8.6 0.35 -6.8 0.35 -4 C0.35 -1.3 1.2 0 2.8 0 C4.2 0 5.15 -1 5.15 -2.7 C5.15 -4.3 4.2 -5.3 2.9 -5.3 C1.7 -5.3 0.7 -4.6 0.4 -3.3" transform="translate(353.74 644.30) scale(0.92 0.855)"/></g>
<circle cx="397.5" cy="639.25" r="9.45" fill="#fff" stroke="#222" stroke-width="0.95"/>
<g fill="none" stroke="#111" stroke-width="1.2" vector-effect="non-scaling-stroke" stroke-linecap="butt" stroke-linejoin="miter"><path d="M0.9 -6.4 C2.2 -6.6 3.3 -7.3 3.6 -8.6 L3.6 0" transform="translate(391.76 643.55) scale(0.92 0.855)"/><path d="M0.3 -8.5 L5.2 -8.5 C3.6 -6.6 2.3 -3.8 1.9 0" transform="translate(398.23 643.55) scale(0.92 0.855)"/></g>
<circle cx="444.5" cy="638" r="9.45" fill="#fff" stroke="#222" stroke-width="0.95"/>
<g fill="none" stroke="#111" stroke-width="1.2" vector-effect="non-scaling-stroke" stroke-linecap="butt" stroke-linejoin="miter"><path d="M0.9 -6.4 C2.2 -6.6 3.3 -7.3 3.6 -8.6 L3.6 0" transform="translate(438.76 642.30) scale(0.92 0.855)"/><path d="M4.9 -6.6 C4.7 -7.9 3.9 -8.6 2.9 -8.6 C1.1 -8.6 0.35 -6.8 0.35 -4 C0.35 -1.3 1.2 0 2.8 0 C4.2 0 5.15 -1 5.15 -2.7 C5.15 -4.3 4.2 -5.3 2.9 -5.3 C1.7 -5.3 0.7 -4.6 0.4 -3.3" transform="translate(445.23 642.30) scale(0.92 0.855)"/></g>
<circle cx="516.25" cy="640" r="9.45" fill="#fff" stroke="#222" stroke-width="0.95"/>
<g fill="none" stroke="#111" stroke-width="1.2" vector-effect="non-scaling-stroke" stroke-linecap="butt" stroke-linejoin="miter"><path d="M4.9 -8.5 L1.1 -8.5 L0.65 -4.3 C1.2 -5 1.9 -5.3 2.8 -5.3 C4.2 -5.3 5.15 -4.3 5.15 -2.7 C5.15 -1 4.1 0 2.7 0 C1.4 0 0.45 -0.7 0.25 -2" transform="translate(513.74 644.30) scale(0.92 0.855)"/></g>
<circle cx="560" cy="641.5" r="9.45" fill="#fff" stroke="#222" stroke-width="0.95"/>
<g fill="none" stroke="#111" stroke-width="1.2" vector-effect="non-scaling-stroke" stroke-linecap="butt" stroke-linejoin="miter"><path d="M0.5 -5.9 C0.5 -7.7 1.4 -8.6 2.8 -8.6 C4.2 -8.6 5.1 -7.7 5.1 -6.3 C5.1 -4.9 4.1 -4.2 2.6 -3.3 C1.1 -2.4 0.4 -1.5 0.35 0 L5.2 0" transform="translate(554.26 645.80) scale(0.92 0.855)"/><path d="M0.5 -6.2 C0.6 -7.9 1.5 -8.6 2.8 -8.6 C4.1 -8.6 4.95 -7.8 4.95 -6.6 C4.95 -5.3 4 -4.6 2.4 -4.6 C4.1 -4.6 5.15 -3.8 5.15 -2.3 C5.15 -0.8 4.1 0 2.7 0 C1.2 0 0.3 -0.8 0.25 -2.4" transform="translate(560.73 645.80) scale(0.92 0.855)"/></g>
<circle cx="623.5" cy="630.5" r="9.45" fill="#fff" stroke="#222" stroke-width="0.95"/>
<g fill="none" stroke="#111" stroke-width="1.2" vector-effect="non-scaling-stroke" stroke-linecap="butt" stroke-linejoin="miter"><path d="M0.9 -6.4 C2.2 -6.6 3.3 -7.3 3.6 -8.6 L3.6 0" transform="translate(617.76 634.80) scale(0.92 0.855)"/><path d="M0.9 -6.4 C2.2 -6.6 3.3 -7.3 3.6 -8.6 L3.6 0" transform="translate(624.23 634.80) scale(0.92 0.855)"/></g>
<circle cx="658.25" cy="624.25" r="9.45" fill="#fff" stroke="#222" stroke-width="0.95"/>
<g fill="none" stroke="#111" stroke-width="1.2" vector-effect="non-scaling-stroke" stroke-linecap="butt" stroke-linejoin="miter"><path d="M0.9 -6.4 C2.2 -6.6 3.3 -7.3 3.6 -8.6 L3.6 0" transform="translate(652.51 628.55) scale(0.92 0.855)"/><path d="M0.9 -6.4 C2.2 -6.6 3.3 -7.3 3.6 -8.6 L3.6 0" transform="translate(658.98 628.55) scale(0.92 0.855)"/></g>
<circle cx="716.75" cy="632.5" r="9.45" fill="#fff" stroke="#222" stroke-width="0.95"/>
<g fill="none" stroke="#111" stroke-width="1.2" vector-effect="non-scaling-stroke" stroke-linecap="butt" stroke-linejoin="miter"><path d="M3.9 0 L3.9 -8.5 L0.2 -2.6 L5.4 -2.6" transform="translate(714.24 636.80) scale(0.92 0.855)"/></g>
<circle cx="761.25" cy="633" r="9.45" fill="#fff" stroke="#222" stroke-width="0.95"/>
<g fill="none" stroke="#111" stroke-width="1.2" vector-effect="non-scaling-stroke" stroke-linecap="butt" stroke-linejoin="miter"><path d="M0.9 -6.4 C2.2 -6.6 3.3 -7.3 3.6 -8.6 L3.6 0" transform="translate(755.51 637.30) scale(0.92 0.855)"/><path d="M0.9 -6.4 C2.2 -6.6 3.3 -7.3 3.6 -8.6 L3.6 0" transform="translate(761.98 637.30) scale(0.92 0.855)"/></g>
</svg>
<div class="bar"></div>

</body></html>
